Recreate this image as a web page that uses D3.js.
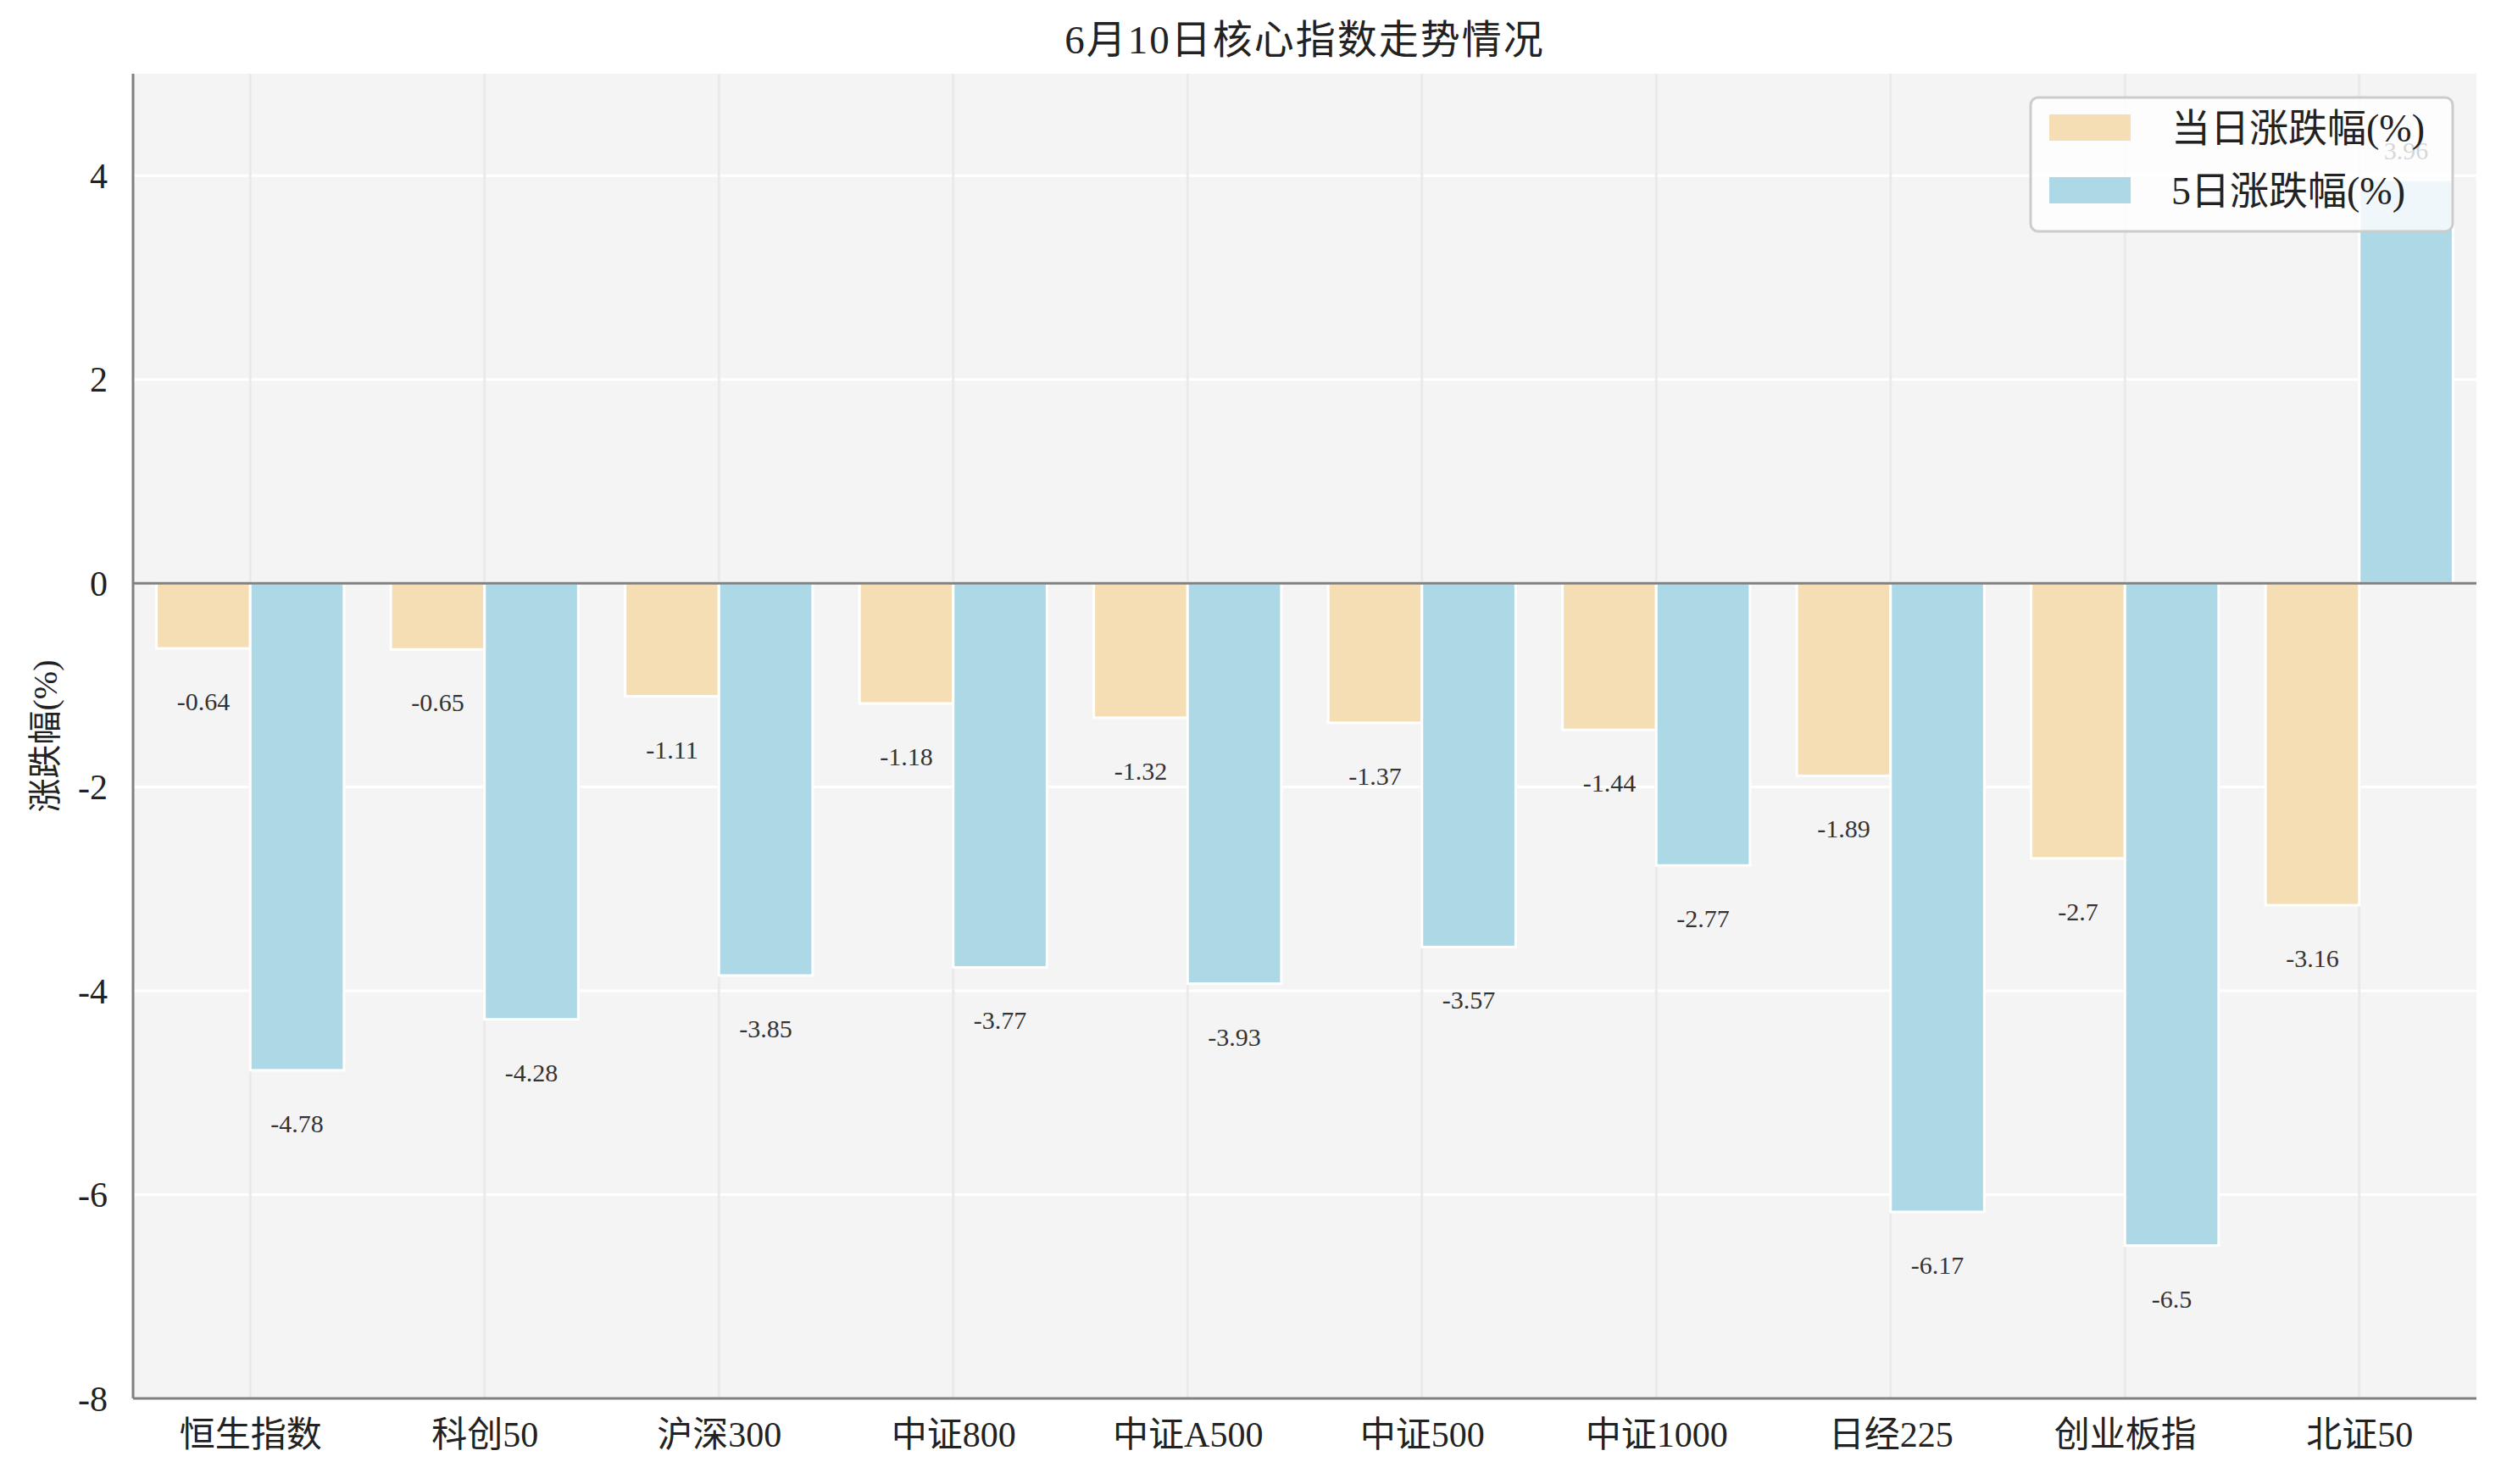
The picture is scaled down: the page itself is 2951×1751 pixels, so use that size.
<!DOCTYPE html>
<html>
<head>
<meta charset="utf-8">
<script src="https://d3js.org/d3.v7.min.js"></script>
<style>
  body { margin: 0; background: #fff; }
  text { font-family: "Liberation Serif", "Noto Sans CJK SC", serif; fill: #222; }
  .axis path { display: none; }
  .axis text { font-size: 42px; fill: #222; }
  .xaxis text { font-size: 42px; }
  .val { font-size: 30px; fill: #333; }
</style>
</head>
<body>
<script>
// data
var categories = ["恒生指数", "科创50", "沪深300", "中证800", "中证A500", "中证500", "中证1000", "日经225", "创业板指", "北证50"];
var daily = [-0.64, -0.65, -1.11, -1.18, -1.32, -1.37, -1.44, -1.89, -2.7, -3.16];
var fiveDay = [-4.78, -4.28, -3.85, -3.77, -3.93, -3.57, -2.77, -6.17, -6.5, 3.96];
var yTicks = [-8, -6, -4, -2, 0, 2, 4];
var seriesNames = ["当日涨跌幅(%)", "5日涨跌幅(%)"];
var colors = ["#F5DEB3", "#ADD8E6"];

var W = 2951, H = 1751;
var margin = { top: 87, right: 29, bottom: 101, left: 157 };
var width = W - margin.left - margin.right,
    height = H - margin.top - margin.bottom;

var svg = d3.select("body").append("svg")
    .attr("width", W).attr("height", H);

var g = svg.append("g")
    .attr("transform", "translate(" + margin.left + "," + margin.top + ")");

// scales: categories sit at 0..9, xlim -0.5..9.5
var x = d3.scaleLinear().domain([-0.5, categories.length - 0.5]).range([0, width]);
var y = d3.scaleLinear().domain([-8, 5]).range([height, 0]);
var barW = 0.4;

// background
g.append("rect").attr("width", width).attr("height", height).attr("fill", "#F4F4F4");

// grid
g.selectAll(".hgrid").data(yTicks).enter().append("line")
    .attr("x1", 0).attr("x2", width)
    .attr("y1", function (d) { return y(d); }).attr("y2", function (d) { return y(d); })
    .attr("stroke", "#fff").attr("stroke-width", 3);
g.selectAll(".vgrid").data(categories).enter().append("line")
    .attr("x1", function (d, i) { return x(i); }).attr("x2", function (d, i) { return x(i); })
    .attr("y1", 0).attr("y2", height)
    .attr("stroke", "#EAEAEA").attr("stroke-width", 3);

// bars
var series = [daily, fiveDay];
series.forEach(function (vals, s) {
    g.selectAll(".bar" + s).data(vals).enter().append("rect")
        .attr("x", function (d, i) { return x(i - barW + s * barW); })
        .attr("width", x(barW) - x(0))
        .attr("y", function (d) { return y(Math.max(0, d)); })
        .attr("height", function (d) { return Math.abs(y(d) - y(0)); })
        .attr("fill", colors[s])
        .attr("stroke", "#fff").attr("stroke-width", 3);
});

// zero line
g.append("line").attr("x1", 0).attr("x2", width)
    .attr("y1", y(0)).attr("y2", y(0))
    .attr("stroke", "#808080").attr("stroke-width", 3);

// value labels
series.forEach(function (vals, s) {
    g.selectAll(".lab" + s).data(vals).enter().append("text")
        .attr("class", "val")
        .attr("x", function (d, i) { return x(i - barW / 2 + s * barW); })
        .attr("y", function (d) { return d < 0 ? y(d - 0.52) : y(d + 0.29); })
        .attr("text-anchor", "middle")
        .attr("dominant-baseline", "central")
        .text(function (d) { return String(d); });
});

// axes
var yAxis = g.append("g").attr("class", "axis")
    .call(d3.axisLeft(y).tickValues(yTicks).tickSize(0).tickPadding(30)
        .tickFormat(function (d) { return String(d); }));
yAxis.selectAll("text").attr("dy", null).attr("dominant-baseline", "central");

var xAxis = g.append("g").attr("class", "axis xaxis")
    .attr("transform", "translate(0," + height + ")")
    .call(d3.axisBottom(x).tickValues(d3.range(categories.length)).tickSize(0)
        .tickFormat(function (d) { return categories[d]; }));
xAxis.selectAll("text").attr("dy", null).attr("y", 43).attr("dominant-baseline", "central");

// spines
g.append("line").attr("x1", 0).attr("x2", 0).attr("y1", 0).attr("y2", height)
    .attr("stroke", "#808080").attr("stroke-width", 3);
g.append("line").attr("x1", 0).attr("x2", width).attr("y1", height).attr("y2", height)
    .attr("stroke", "#808080").attr("stroke-width", 3);

// title and y label
svg.append("text").attr("x", margin.left + width / 2).attr("y", 47)
    .attr("text-anchor", "middle").attr("dominant-baseline", "central")
    .style("font-size", "47px").style("letter-spacing", "2px").text("6月10日核心指数走势情况");
svg.append("text")
    .attr("transform", "translate(53," + (margin.top + height / 2) + ") rotate(-90)")
    .attr("text-anchor", "middle").attr("dominant-baseline", "central")
    .style("font-size", "40px").text("涨跌幅(%)");

// legend
var leg = svg.append("g").attr("transform", "translate(2396,115)");
leg.append("rect").attr("width", 498).attr("height", 158).attr("rx", 9)
    .attr("fill", "#fff").attr("fill-opacity", 0.8)
    .attr("stroke", "#CCCCCC").attr("stroke-width", 3);
seriesNames.forEach(function (name, i) {
    leg.append("rect").attr("x", 22).attr("y", 20 + i * 74)
        .attr("width", 96).attr("height", 31).attr("fill", colors[i]);
    leg.append("text").attr("x", 166).attr("y", 36 + i * 74)
        .attr("dominant-baseline", "central")
        .style("font-size", "46px").text(name);
});
</script>
</body>
</html>
